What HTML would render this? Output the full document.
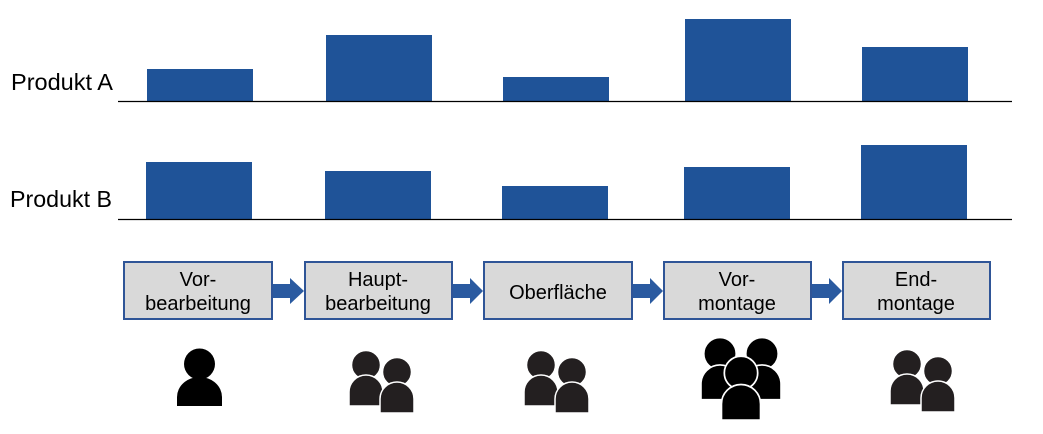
<!DOCTYPE html>
<html><head><meta charset="utf-8"><style>
html,body{margin:0;padding:0;background:#fff;}
svg{display:block;font-family:"Liberation Sans",Arial,sans-serif;}
</style></head><body>
<svg width="1043" height="434" viewBox="0 0 1043 434" xmlns="http://www.w3.org/2000/svg">
<text x="11" y="90" font-size="23" fill="#000" textLength="102" lengthAdjust="spacingAndGlyphs">Produkt A</text>
<text x="10" y="207" font-size="23" fill="#000" textLength="102" lengthAdjust="spacingAndGlyphs">Produkt B</text>
<g fill="#1f5398">
<rect x="147" y="69" width="106" height="33"/>
<rect x="326" y="35" width="106" height="67"/>
<rect x="503" y="77" width="106" height="25"/>
<rect x="685" y="19" width="106" height="83"/>
<rect x="862" y="47" width="106" height="55"/>
<rect x="146" y="162" width="106" height="57"/>
<rect x="325" y="171" width="106" height="48"/>
<rect x="502" y="186" width="106" height="33"/>
<rect x="684" y="167" width="106" height="52"/>
<rect x="861" y="145" width="106" height="74"/>
</g>
<line x1="118" y1="101.5" x2="1012" y2="101.5" stroke="#000" stroke-width="1.3"/>
<line x1="118" y1="219.5" x2="1012" y2="219.5" stroke="#000" stroke-width="1.3"/>
<g fill="#d9d9d9" stroke="#2f5597" stroke-width="2">
<rect x="124" y="262" width="148" height="57"/>
<rect x="305" y="262" width="147" height="57"/>
<rect x="484" y="262" width="148" height="57"/>
<rect x="664" y="262" width="147" height="57"/>
<rect x="843" y="262" width="147" height="57"/>
</g>
<g fill="#2a5aa0">
<path d="M273 284 H290 V278 L304 291 L290 304 V298 H273 Z"/>
<path d="M453 284 H470 V278 L483 291 L470 304 V298 H453 Z"/>
<path d="M633 284 H650 V278 L663 291 L650 304 V298 H633 Z"/>
<path d="M812 284 H829 V278 L842 291 L829 304 V298 H812 Z"/>
</g>
<g font-size="20" fill="#000" text-anchor="middle">
<text x="198" y="286">Vor-</text><text x="198" y="310">bearbeitung</text>
<text x="378" y="286">Haupt-</text><text x="378" y="310">bearbeitung</text>
<text x="558" y="299">Oberfläche</text>
<text x="737" y="286">Vor-</text><text x="737" y="310">montage</text>
<text x="916" y="286">End-</text><text x="916" y="310">montage</text>
</g>
<defs>
<g id="p"><circle cx="0" cy="-27" r="14.5"/><path d="M-17 14 V0 A17 17 0 0 1 17 0 V14 Z"/></g>
</defs>
<g fill="#000"><circle cx="199.5" cy="364" r="15.5"/><path d="M177 406 V397 A22.5 20 0 0 1 222 397 V406 Z"/></g>
<g fill="#231f20" stroke="#fff" stroke-width="1.5">
<use href="#p" transform="translate(366,392)"/><use href="#p" transform="translate(397,399)"/>
<use href="#p" transform="translate(541,392)"/><use href="#p" transform="translate(572,399)"/>
<use href="#p" transform="translate(907,391)"/><use href="#p" transform="translate(938,398)"/>
</g>
<g fill="#000" stroke="#fff" stroke-width="1.5">
<use href="#p" transform="translate(720,384) scale(1.12)"/>
<use href="#p" transform="translate(762,384) scale(1.12)"/>
<use href="#p" transform="translate(741,404) scale(1.15)"/>
</g>
</svg>
</body></html>
